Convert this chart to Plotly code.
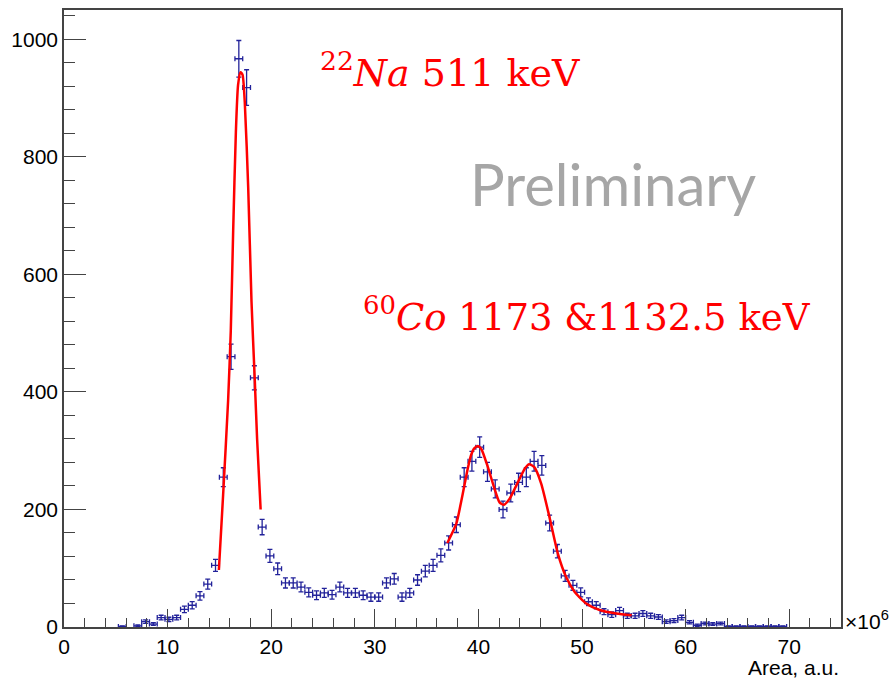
import numpy as np
import plotly.graph_objects as go

# ---- histogram data (bin width 0.75e6, 100 bins from 0 to 75) ----
bin_width = 0.75
first_bin = 7
counts = [1, 0, 2, 9, 5, 16, 13, 16, 30, 37, 53, 73, 105, 255, 460, 967, 918, 424,
          170, 121, 99, 75, 75, 68, 59, 54, 58, 55, 68, 58, 58, 54, 51, 51, 75, 82,
          51, 58, 80, 95, 105, 122, 143, 174, 255, 282, 306, 264, 235, 200, 228, 246,
          255, 282, 275, 177, 129, 87, 71, 59, 43, 37, 26, 21, 28, 19, 19, 23, 19, 17,
          9, 11, 16, 8, 3, 6, 5, 6, 1, 1, 1, 1, 1, 1, 1, 1]

# ---- fit curves ----
na_fit_x = [14.95, 15.36, 15.84, 16.10, 16.33, 16.59, 16.80, 17.04, 17.23, 17.45,
            17.78, 18.10, 18.42, 18.64, 18.98]
na_fit_y = [97, 225, 385, 505, 675, 842, 922, 944, 940, 893, 748, 553, 418, 320, 200]

co_fit_x = [37.0, 37.87, 38.3, 38.67, 39.0, 39.3, 39.6, 39.95, 40.28, 40.86, 41.56,
            42.04, 42.46, 43.0, 43.5, 43.97, 44.5, 44.9, 45.4, 46.06, 46.86, 47.67,
            48.47, 49.28, 50.4, 51.7, 53.3, 54.8]
co_fit_y = [143, 176, 210, 243, 272, 293, 304, 308, 303, 275, 235, 212, 208, 218, 235,
            252, 270, 277, 272, 244, 187, 125, 85, 60, 40, 29, 23, 20]

centers = [0.375 + bin_width * (first_bin + i) for i in range(len(counts))]
px = [c for c, v in zip(centers, counts) if v > 0]
py = [v for v in counts if v > 0]
pe = [float(np.sqrt(v)) for v in py]

blue = "#22229a"
fig = go.Figure()
fig.add_trace(go.Scatter(
    x=px, y=py, mode="markers",
    marker=dict(size=1, color=blue),
    error_y=dict(type="data", array=pe, color=blue, thickness=1.3, width=2.5),
    error_x=dict(type="constant", value=bin_width / 2, color=blue, thickness=1.3, width=2.5),
    showlegend=False, hoverinfo="skip"))
fig.add_trace(go.Scatter(x=na_fit_x, y=na_fit_y, mode="lines",
                         line=dict(color="#ff0000", width=2.5, shape="spline", smoothing=0.6),
                         showlegend=False))
fig.add_trace(go.Scatter(x=co_fit_x, y=co_fit_y, mode="lines",
                         line=dict(color="#ff0000", width=2.5, shape="spline", smoothing=0.6),
                         showlegend=False))

axis_font = dict(family="Liberation Sans, Arial, sans-serif", size=21, color="black")
fig.update_layout(
    width=891, height=681,
    margin=dict(l=64, r=50, t=8, b=54),
    paper_bgcolor="white", plot_bgcolor="white",
    xaxis=dict(range=[0, 75], tick0=0, dtick=10, ticks="inside", ticklen=18,
               tickcolor="#444", tickwidth=1, showgrid=False, zeroline=False,
               showline=True, linecolor="#444", linewidth=1.5, mirror=True,
               tickfont=axis_font,
               minor=dict(dtick=2, ticks="inside", ticklen=9, tickcolor="#444", showgrid=False)),
    yaxis=dict(range=[0, 1050], tick0=0, dtick=200, ticks="inside", ticklen=22,
               tickcolor="#444", tickwidth=1, showgrid=False, zeroline=False,
               showline=True, linecolor="#444", linewidth=1.5, mirror=True,
               tickfont=axis_font,
               minor=dict(dtick=40, ticks="inside", ticklen=11, tickcolor="#444", showgrid=False)),
)

serif = "DejaVu Serif, Liberation Serif, serif"
fig.add_annotation(x=24.5, y=948, xref="x", yref="y", xanchor="left", yanchor="middle",
                   text="<sup>22</sup><i>Na</i> 511 keV", showarrow=False,
                   font=dict(family=serif, size=38, color="#ff0000"))
fig.add_annotation(x=28.7, y=531, xref="x", yref="y", xanchor="left", yanchor="middle",
                   text="<sup>60</sup><i>Co</i> 1173 &amp;1132.5 keV", showarrow=False,
                   font=dict(family=serif, size=37, color="#ff0000"))
fig.add_annotation(x=39.0, y=755, xref="x", yref="y", xanchor="left", yanchor="middle",
                   text="Preliminary", showarrow=False,
                   font=dict(family="Lato, Open Sans, sans-serif", size=58, color="#a6a6a6"))
fig.add_annotation(x=1.003, y=0.012, xref="paper", yref="paper", xanchor="left", yanchor="middle",
                   text="×10<sup>6</sup>", showarrow=False, font=axis_font)
fig.add_annotation(x=1.0, y=-0.066, xref="paper", yref="paper", xanchor="right", yanchor="middle",
                   text="Area, a.u.", showarrow=False, font=axis_font)

fig.write_html("out.html")
